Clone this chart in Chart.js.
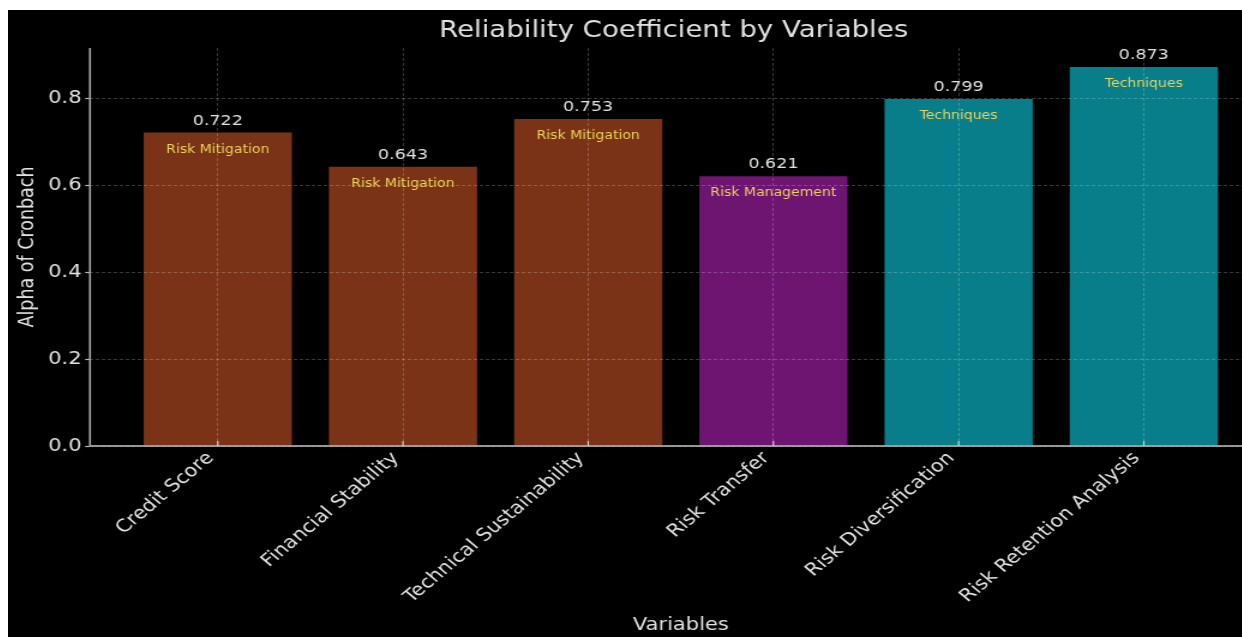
<!DOCTYPE html>
<html>
<head>
<meta charset="utf-8">
<script src="https://cdn.jsdelivr.net/npm/chart.js@4.4.1/dist/chart.umd.min.js"></script>
<style>
  html, body { margin: 0; padding: 0; background: #fff; overflow: hidden; width: 1242px; height: 637px; }
  #wrap { position: absolute; left: 8px; top: 10px; width: 1053px; height: 627px; transform: scaleX(1.2); transform-origin: 0 0; }
  canvas { display: block; }
</style>
</head>
<body>
<div id="wrap"><canvas id="chart" width="1053" height="627"></canvas></div>
<script>
// Variables and their Cronbach's alpha
const categories = ['Credit Score', 'Financial Stability', 'Technical Sustainability', 'Risk Transfer', 'Risk Diversification', 'Risk Retention Analysis'];
const alphaValues = [0.722, 0.643, 0.753, 0.621, 0.799, 0.873];
const groups = ['Risk Mitigation', 'Risk Mitigation', 'Risk Mitigation', 'Risk Management', 'Techniques', 'Techniques'];
const groupColors = { 'Risk Mitigation': '#7a3316', 'Risk Management': '#6e1471', 'Techniques': '#077e8a' };
const yTicks = [0.0, 0.2, 0.4, 0.6, 0.8];
const chartTitle = 'Reliability Coefficient by Variables';

const FONT = '"DejaVu Sans", "Liberation Sans", sans-serif';
const TEXT = '#e2e2e2';
const GRID = 'rgba(255,255,255,0.22)';
const yMax = Math.max(...alphaValues) * 1.05;

const barAnnotations = {
  id: 'barAnnotations',
  beforeDraw(chart) {
    const { ctx, width, height } = chart;
    ctx.save();
    ctx.fillStyle = '#000';
    ctx.fillRect(0, 0, width, height);
    ctx.restore();
  },
  afterDraw(chart) {
    const { ctx, chartArea, scales: { x, y } } = chart;
    const meta = chart.getDatasetMeta(0);
    ctx.save();
    ctx.setLineDash([]);

    // axis spines
    const base = y.getPixelForValue(0);
    ctx.lineWidth = 1.6;
    ctx.strokeStyle = '#a8a8a8';
    ctx.beginPath();
    ctx.moveTo(chartArea.left, chartArea.top);
    ctx.lineTo(chartArea.left, base);
    ctx.stroke();
    ctx.strokeStyle = '#c4c4c4';
    ctx.beginPath();
    ctx.moveTo(chartArea.left, base);
    ctx.lineTo(chartArea.right, base);
    ctx.stroke();

    // short inward tick marks on the category axis
    ctx.strokeStyle = '#d0d0d0';
    ctx.lineWidth = 1.2;
    x.ticks.forEach(t => {
      const px = x.getPixelForValue(t.value);
      ctx.beginPath();
      ctx.moveTo(px, base);
      ctx.lineTo(px, base - 5);
      ctx.stroke();
    });

    // value and group labels on each bar
    ctx.textAlign = 'center';
    ctx.textBaseline = 'alphabetic';
    meta.data.forEach((bar, i) => {
      const top = y.getPixelForValue(alphaValues[i]);
      ctx.font = '14.6px ' + FONT;
      ctx.fillStyle = TEXT;
      ctx.fillText(alphaValues[i].toFixed(3), bar.x, top - 8);
      ctx.font = '11.7px ' + FONT;
      ctx.fillStyle = '#ecd35a';
      ctx.fillText(groups[i], bar.x, top + 20);
    });

    // chart title
    ctx.font = '23px ' + FONT;
    ctx.fillStyle = TEXT;
    ctx.textBaseline = 'middle';
    ctx.fillText(chartTitle, (chartArea.left + chartArea.right) / 2 - 6, 21);
    ctx.restore();
  }
};

new Chart(document.getElementById('chart'), {
  type: 'bar',
  data: {
    datasets: [{
      data: alphaValues.map((v, i) => ({ x: i, y: v })),
      backgroundColor: groups.map(g => groupColors[g]),
      borderWidth: 0,
      categoryPercentage: 1.0,
      barPercentage: 0.8
    }]
  },
  options: {
    responsive: false,
    animation: false,
    events: [],
    layout: { padding: { top: 38, left: 0, right: 0, bottom: 0 } },
    plugins: {
      legend: { display: false },
      tooltip: { enabled: false },
      title: { display: false }
    },
    scales: {
      x: {
        type: 'linear',
        offset: false,
        min: -0.69,
        max: 5.69,
        afterBuildTicks: axis => { axis.ticks = categories.map((_, i) => ({ value: i })); },
        afterFit: s => { s.height = 191; },
        ticks: {
          autoSkip: false,
          minRotation: 45,
          maxRotation: 45,
          padding: 2,
          labelOffset: -6,
          color: TEXT,
          font: { family: FONT, size: 17.5 },
          callback: v => categories[v]
        },
        grid: { offset: false, color: GRID, lineWidth: 1, drawTicks: false, z: 1 },
        border: { display: false, dash: [3, 2] },
        title: {
          display: true,
          text: 'Variables',
          color: TEXT,
          font: { family: FONT, size: 17.5 },
          padding: { top: 0, bottom: 1.5 }
        }
      },
      y: {
        min: 0,
        max: yMax,
        afterBuildTicks: axis => { axis.ticks = yTicks.map(v => ({ value: v })); },
        afterFit: s => { s.width = 68.3; },
        ticks: {
          padding: 3,
          color: TEXT,
          font: { family: FONT, size: 17.5 },
          callback: v => v.toFixed(1)
        },
        grid: { color: GRID, lineWidth: 1, drawTicks: true, tickLength: 4, tickColor: '#b8b8b8', tickWidth: 1.2, tickBorderDash: [], z: 1 },
        border: { display: false, dash: [3, 2] },
        title: {
          display: true,
          text: 'Alpha of Cronbach',
          color: TEXT,
          font: { family: FONT, size: 17.5 },
          padding: { top: 6, bottom: 0 }
        }
      }
    }
  },
  plugins: [barAnnotations]
});
</script>
</body>
</html>
